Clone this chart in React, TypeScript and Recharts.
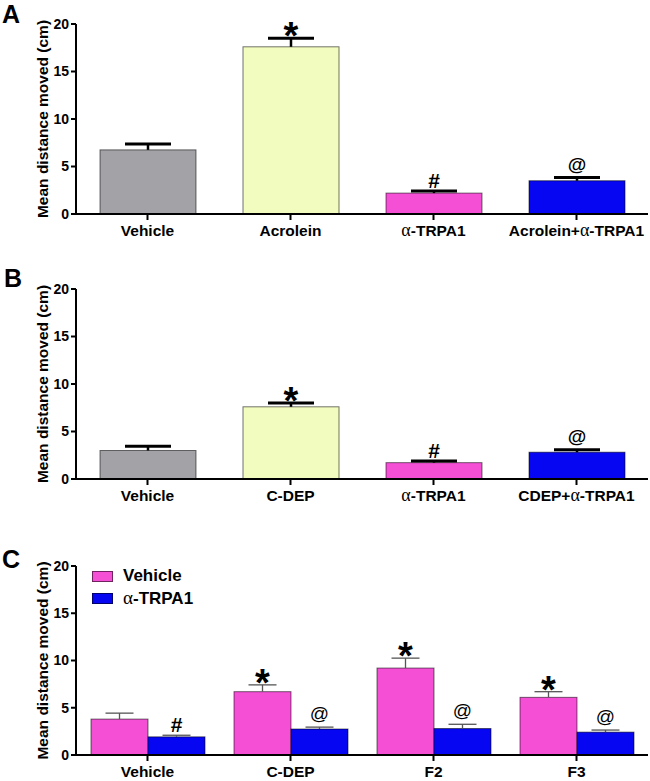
import React from 'react';
import { BarChart, Bar, XAxis, YAxis, Cell, Legend } from 'recharts';

const FONT = '"Liberation Sans", Arial, Helvetica, sans-serif';
const GREEK_FONT = '"Liberation Serif", "DejaVu Serif", serif';

// Panel A: acrolein
const groupsA = ['Vehicle', 'Acrolein', 'α-TRPA1', 'Acrolein+α-TRPA1'];
const meanA = [6.75, 17.6, 2.2, 3.5];
const semA = [0.62, 0.9, 0.22, 0.33];
const markA = ['', '*', '#', '@'];

// Panel B: C-DEP
const groupsB = ['Vehicle', 'C-DEP', 'α-TRPA1', 'CDEP+α-TRPA1'];
const meanB = [3.0, 7.6, 1.72, 2.82];
const semB = [0.46, 0.4, 0.18, 0.26];
const markB = ['', '*', '#', '@'];

// Panel C: fractions, vehicle vs alpha-TRPA1
const groupsC = ['Vehicle', 'C-DEP', 'F2', 'F3'];
const vehicleC = [3.8, 6.7, 9.2, 6.1];
const vehicleSemC = [0.63, 0.72, 1.05, 0.6];
const vehicleMarkC = ['', '*', '*', '*'];
const trpaC = [1.92, 2.75, 2.8, 2.42];
const trpaSemC = [0.17, 0.2, 0.45, 0.22];
const trpaMarkC = ['#', '@', '@', '@'];

const yTicks = [0, 5, 10, 15, 20];

const COLORS_AB = ['#a2a2a7', '#f3fcbf', '#f54fd6', '#0606f2'];
const PINK = '#f54fd6';
const BLUE = '#0606f2';

const dataA = groupsA.map((group, i) => ({ group, mean: meanA[i], sem: semA[i], mark: markA[i] }));
const dataB = groupsB.map((group, i) => ({ group, mean: meanB[i], sem: semB[i], mark: markB[i] }));
const dataC = groupsC.map((group, i) => ({
  group,
  veh: vehicleC[i],
  vehSem: vehicleSemC[i],
  vehMark: vehicleMarkC[i],
  trpa: trpaC[i],
  trpaSem: trpaSemC[i],
  trpaMark: trpaMarkC[i],
}));

// splits "α" out so it can use a serif face like the original Symbol glyph
function greekParts(label: string, Tag: any, greekProps: any) {
  const parts = label.split('α');
  const out: any[] = [];
  parts.forEach((p, i) => {
    if (i > 0) out.push(<Tag key={'g' + i} {...greekProps}>α</Tag>);
    if (p) out.push(<Tag key={'t' + i}>{p}</Tag>);
  });
  return out;
}

const CategoryTick = (props: any) => {
  const { x, y, payload } = props;
  return (
    <text
      x={x}
      y={y}
      dy="0.71em"
      textAnchor="middle"
      style={{ fontFamily: FONT, fontWeight: 700, fontSize: 15.5, fill: '#000' }}
    >
      {greekParts(String(payload.value), 'tspan', {
        style: { fontFamily: GREEK_FONT, fontWeight: 400, fontSize: 18 },
      })}
    </text>
  );
};

const makeYLabel = (fallbackCy: number) => (props: any) => {
  const vb = props && props.viewBox;
  const cy = vb && typeof vb.y === 'number' ? vb.y + vb.height / 2 : fallbackCy;
  return (
    <text
      x={42}
      y={cy}
      transform={`rotate(-90, 42, ${cy})`}
      textAnchor="middle"
      dominantBaseline="central"
      style={{ fontFamily: FONT, fontWeight: 700, fontSize: 15.5, fill: '#000' }}
    >
      Mean distance moved (cm)
    </text>
  );
};

interface ErrStyle {
  stroke: string;
  stem: number;
  cap: number;
  capHalf: number;
  atWeight: number;
}

// bar + upward-only SEM whisker + significance mark
const makeShape = (valKey: string, semKey: string, markKey: string, es: ErrStyle) => (props: any) => {
  const { x, y, width, height, fill, payload } = props;
  const v = payload[valKey];
  const e = payload[semKey];
  const m = payload[markKey];
  const pxPerUnit = v ? height / v : 0;
  const cx = x + width / 2;
  const top = y - e * pxPerUnit;
  let mark = null;
  if (m === '*') {
    mark = (
      <text x={cx} y={top + 11} textAnchor="middle"
        style={{ fontFamily: FONT, fontWeight: 700, fontSize: 38, fill: '#000' }}>*</text>
    );
  } else if (m === '#') {
    mark = (
      <text x={cx} y={top - 3} textAnchor="middle"
        style={{ fontFamily: FONT, fontWeight: 700, fontSize: 21, fill: '#000' }}>#</text>
    );
  } else if (m === '@') {
    mark = (
      <text x={cx} y={top - 7} textAnchor="middle"
        style={{ fontFamily: FONT, fontWeight: es.atWeight, fontSize: 19, fill: '#000' }}>@</text>
    );
  }
  return (
    <g>
      <rect x={x} y={y} width={width} height={height} fill={fill}
        stroke="rgba(0,0,0,0.55)" strokeWidth={1} />
      <line x1={cx} x2={cx} y1={y} y2={top} stroke={es.stroke} strokeWidth={es.stem} />
      <line x1={cx - es.capHalf} x2={cx + es.capHalf} y1={top} y2={top}
        stroke={es.stroke} strokeWidth={es.cap} />
      {mark}
    </g>
  );
};

const thickErr: ErrStyle = { stroke: '#000', stem: 2.5, cap: 3, capHalf: 23, atWeight: 700 };
const thinErr: ErrStyle = { stroke: '#555', stem: 1.3, cap: 1.3, capHalf: 14, atWeight: 400 };

const axisLine = { stroke: '#000', strokeWidth: 2 };
const yTickStyle = { fontFamily: FONT, fontWeight: 700, fontSize: 14, fill: '#000' };

function SinglePanel({ data, top, height, margin, cy }: any) {
  return (
    <div style={{ position: 'absolute', left: 0, top }}>
      <BarChart width={650} height={height} data={data} margin={margin}>
        <XAxis
          dataKey="group"
          interval={0}
          height={40}
          tickSize={6}
          tickMargin={5}
          axisLine={axisLine}
          tickLine={axisLine}
          tick={<CategoryTick />}
        />
        <YAxis
          domain={[0, 20]}
          ticks={yTicks}
          width={76}
          tickSize={5}
          tickMargin={2}
          axisLine={axisLine}
          tickLine={axisLine}
          tick={yTickStyle}
          label={makeYLabel(cy)}
        />
        <Bar dataKey="mean" barSize={96} isAnimationActive={false}
          shape={makeShape('mean', 'sem', 'mark', thickErr)}>
          {data.map((d: any, i: number) => (
            <Cell key={d.group} fill={COLORS_AB[i]} />
          ))}
        </Bar>
      </BarChart>
    </div>
  );
}

const renderLegend = (props: any) => {
  const { payload } = props;
  return (
    <div>
      {(payload || []).map((p: any) => (
        <div key={p.value} style={{ display: 'flex', alignItems: 'center', height: 22 }}>
          <span style={{
            display: 'inline-block', width: 21, height: 11, background: p.color,
            border: '1px solid rgba(0,0,0,0.55)', boxSizing: 'border-box',
          }} />
          <span style={{ marginLeft: 10, fontFamily: FONT, fontWeight: 700, fontSize: 17, color: '#000' }}>
            {greekParts(String(p.value), 'span', {
              style: { fontFamily: GREEK_FONT, fontWeight: 400, fontSize: 19 },
            })}
          </span>
        </div>
      ))}
    </div>
  );
};

export default function App() {
  return (
    <div style={{ position: 'absolute', left: 0, top: 0, width: 650, height: 781, background: '#fff' }}>
      <SinglePanel data={dataA} top={0} height={260}
        margin={{ top: 24, right: 2, bottom: 6, left: 0 }} cy={119} />
      <SinglePanel data={dataB} top={260} height={260}
        margin={{ top: 29, right: 2, bottom: 1, left: 0 }} cy={124} />

      <div style={{ position: 'absolute', left: 0, top: 520 }}>
        <BarChart width={650} height={261} data={dataC} barGap={0}
          margin={{ top: 46, right: 2, bottom: 0, left: 0 }}>
          <XAxis
            dataKey="group"
            interval={0}
            height={26}
            tickSize={6}
            tickMargin={5}
            axisLine={axisLine}
            tickLine={axisLine}
            tick={<CategoryTick />}
          />
          <YAxis
            domain={[0, 20]}
            ticks={yTicks}
            width={76}
            tickSize={5}
            tickMargin={2}
            axisLine={axisLine}
            tickLine={axisLine}
            tick={yTickStyle}
            label={makeYLabel(141)}
          />
          <Legend
            layout="vertical"
            align="center"
            verticalAlign="middle"
            content={renderLegend}
            wrapperStyle={{ left: 92, top: 45, width: 'auto' }}
          />
          <Bar dataKey="veh" name="Vehicle" fill={PINK} barSize={57} isAnimationActive={false}
            shape={makeShape('veh', 'vehSem', 'vehMark', thinErr)} />
          <Bar dataKey="trpa" name="α-TRPA1" fill={BLUE} barSize={57} isAnimationActive={false}
            shape={makeShape('trpa', 'trpaSem', 'trpaMark', thinErr)} />
        </BarChart>
      </div>

      <svg width={650} height={781}
        style={{ position: 'absolute', left: 0, top: 0, pointerEvents: 'none' }}>
        <g style={{ fontFamily: FONT, fontWeight: 700, fontSize: 25, fill: '#000' }}>
          <text x={2} y={23}>A</text>
          <text x={4} y={287}>B</text>
          <text x={2} y={568}>C</text>
        </g>
      </svg>
    </div>
  );
}
